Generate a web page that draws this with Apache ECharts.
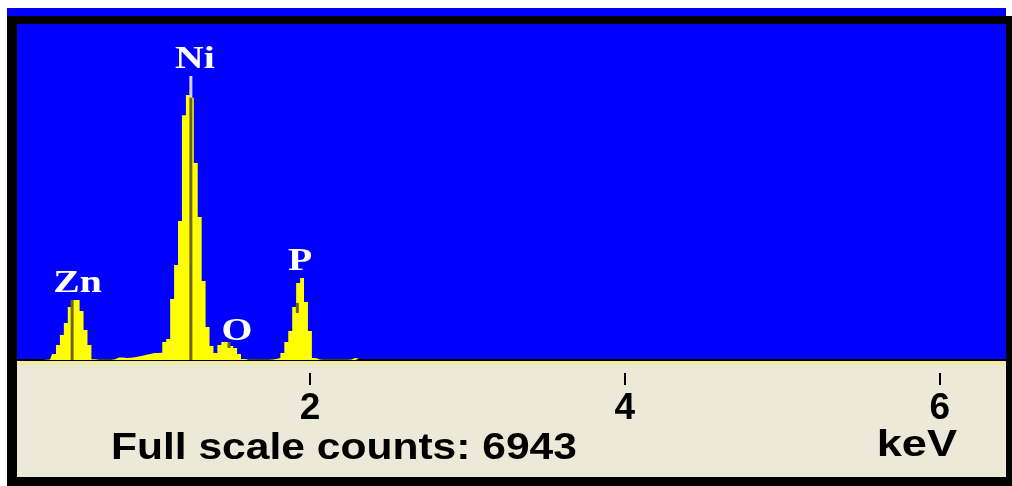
<!DOCTYPE html>
<html>
<head>
<meta charset="utf-8">
<script src="https://cdn.jsdelivr.net/npm/echarts@6/dist/echarts.min.js"></script>
<style>
  html, body { margin: 0; padding: 0; background: #ffffff; }
  #chart { width: 1012px; height: 486px; }
</style>
</head>
<body>
<div id="chart"></div>
<script>
// EDS spectrum: channel energies (keV) and counts per channel
const energy = [
  0.150, 0.175, 0.200, 0.225, 0.250, 0.275, 0.300, 0.325, 0.350, 0.375,
  0.400, 0.425, 0.450, 0.475, 0.500, 0.525, 0.550, 0.575, 0.600, 0.625,
  0.650, 0.675, 0.700, 0.725, 0.750, 0.775, 0.800, 0.825, 0.850, 0.875,
  0.900, 0.925, 0.950, 0.975, 1.000, 1.025, 1.050, 1.075, 1.100, 1.125,
  1.150, 1.175, 1.200, 1.225, 1.250, 1.275, 1.300, 1.325, 1.350, 1.375,
  1.400, 1.425, 1.450, 1.475, 1.500, 1.525, 1.550, 1.575, 1.600, 1.625,
  1.650, 1.675, 1.700, 1.725, 1.750, 1.775, 1.800, 1.825, 1.850, 1.875,
  1.900, 1.925, 1.950, 1.975, 2.000, 2.025, 2.050, 2.075, 2.100, 2.125,
  2.150, 2.175, 2.200, 2.225, 2.250, 2.275, 2.300, 2.325
];
const counts = [
  0, 0, 0, 0, 0, 0, 0, 5, 10, 124,
  310, 517, 764, 1095, 1240, 1240, 1012, 620, 310, 15,
  5, 5, 5, 5, 15, 50, 50, 40, 45, 55,
  70, 90, 110, 125, 145, 145, 150, 372, 434, 1260,
  1963, 2872, 5060, 5475, 5420, 4070, 2954, 1632, 682, 290,
  145, 310, 372, 372, 290, 248, 124, 20, 5, 5,
  5, 5, 5, 5, 10, 20, 41, 145, 372, 600,
  1095, 1590, 1694, 1198, 600, 41, 10, 5, 5, 5,
  5, 5, 5, 5, 10, 40, 25, 0
];
const fullScale = 6943;
const energyRange = [0.14, 6.42];
const tickStep = 2;
const tickAxisMax = 8;

// element identification labels (label foot position in keV / counts)
const elementNames = ['Zn', 'Ni', 'O', 'P'];
const elementEnergy = [0.524, 1.270, 1.537, 1.937];
const elementLabelAt = [1240, 5868, 248, 1694];

// KLM marker lines
const markerEnergy = [0.490, 1.244, 1.486, 1.920];
const markerFrom = [0, 0, 248, 970];
const markerTo = [1240, 5868, 372, 1180];

function countAt(e) {
  let best = 0;
  for (let i = 1; i < energy.length; i++) {
    if (Math.abs(energy[i] - e) < Math.abs(energy[best] - e)) best = i;
  }
  return counts[best];
}

// plot frame: spectrum window and the scale strip beneath it
const plotLeft = 17, plotRight = 1006, plotTop = 24, plotBottom = 360, width = 1012, height = 486;
const pxPerKeV = (plotRight - plotLeft) / (energyRange[1] - energyRange[0]);
const zeroX = plotLeft - energyRange[0] * pxPerKeV;

const chart = echarts.init(document.getElementById('chart'), null, { renderer: 'canvas' });

const option = {
  animation: false,
  backgroundColor: '#ffffff',
  grid: [
    {
      left: plotLeft, right: width - plotRight, top: plotTop, bottom: height - plotBottom,
      outerBoundsMode: 'none', containLabel: false,
      show: true, backgroundColor: '#0000ff', borderWidth: 0
    },
    {
      // tick scale grid: same keV-to-pixel mapping, counted from 0 keV
      left: zeroX, right: width - (zeroX + tickAxisMax * pxPerKeV),
      top: plotTop, bottom: height - plotBottom,
      outerBoundsMode: 'none', containLabel: false, show: false
    }
  ],
  xAxis: [
    {
      type: 'value', gridIndex: 0, min: energyRange[0], max: energyRange[1],
      axisLine: { show: true, onZero: false, lineStyle: { color: '#000000', width: 2 } },
      axisTick: { show: false }, axisLabel: { show: false }, splitLine: { show: false }
    },
    {
      type: 'value', gridIndex: 1, min: 0, max: tickAxisMax, interval: tickStep,
      position: 'bottom', offset: 13,
      axisLine: { show: false, onZero: false },
      axisTick: { show: true, inside: false, length: 12, lineStyle: { color: '#000000', width: 2 } },
      axisLabel: {
        show: true, margin: 17, showMinLabel: false, showMaxLabel: false, hideOverlap: false,
        formatter: v => (v === 0 ? '' : String(v)),
        color: '#000000', fontSize: 37, fontWeight: 'bold', fontFamily: 'Liberation Sans'
      },
      splitLine: { show: false }
    }
  ],
  yAxis: [
    { type: 'value', gridIndex: 0, min: 0, max: fullScale, show: false, splitLine: { show: false } },
    { type: 'value', gridIndex: 1, min: 0, max: fullScale, show: false, splitLine: { show: false } }
  ],
  graphic: [
    { type: 'rect', z: -5, shape: { x: 7, y: 8, width: 999, height: 8 }, style: { fill: '#0000ff' } },
    { type: 'rect', z: -5, shape: { x: 7, y: 16, width: 1005, height: 470 }, style: { fill: '#000000' } },
    { type: 'rect', z: -4, shape: { x: 17, y: 365, width: 989, height: 112 }, style: { fill: '#ece9d8' } },
    { type: 'rect', z: -4, shape: { x: 17, y: 361, width: 989, height: 4 }, style: { fill: '#f2eca0' } },
    {
      type: 'text', x: 111, y: 467, scaleX: 1.15,
      style: {
        text: 'Full scale counts: ' + fullScale, fill: '#000000',
        font: 'bold 37px "Liberation Sans"', align: 'left', verticalAlign: 'bottom'
      }
    },
    {
      type: 'text', x: 957, y: 464, scaleX: 1.22,
      style: {
        text: 'keV', fill: '#000000',
        font: 'bold 37px "Liberation Sans"', align: 'right', verticalAlign: 'bottom'
      }
    }
  ],
  series: [
    {
      type: 'line',
      xAxisIndex: 0, yAxisIndex: 0,
      data: energy.map((e, i) => [e, counts[i]]),
      step: 'middle',
      symbol: 'none',
      showSymbol: false,
      lineStyle: { width: 0, opacity: 0 },
      areaStyle: { color: '#ffff00', opacity: 1 },
      z: 2
    },
    {
      type: 'custom',
      xAxisIndex: 0, yAxisIndex: 0,
      data: markerEnergy.map((e, i) => [e, markerFrom[i], markerTo[i], countAt(e)]),
      renderItem: function (params, api) {
        const e = api.value(0), lo = api.value(1), hi = api.value(2), pk = api.value(3);
        const mid = Math.min(hi, pk);
        const a = api.coord([e, lo]), b = api.coord([e, mid]), c = api.coord([e, hi]);
        const children = [{
          type: 'line',
          shape: { x1: a[0], y1: a[1], x2: b[0], y2: b[1] },
          style: { stroke: '#6e6614', lineWidth: 3 }
        }];
        if (hi > pk) {
          children.push({
            type: 'line',
            shape: { x1: b[0], y1: b[1], x2: c[0], y2: c[1] },
            style: { stroke: '#d4d0ff', lineWidth: 3 }
          });
        }
        return { type: 'group', children: children };
      },
      z: 3
    },
    {
      type: 'custom',
      xAxisIndex: 0, yAxisIndex: 0,
      data: elementEnergy.map((e, i) => [e, elementLabelAt[i]]),
      renderItem: function (params, api) {
        const p = api.coord([api.value(0), api.value(1)]);
        return {
          type: 'text',
          x: p[0], y: p[1] - 1, scaleX: 1.28,
          style: {
            text: elementNames[params.dataIndex], fill: '#ffffff',
            font: 'bold 31px "Liberation Serif"', align: 'center', verticalAlign: 'bottom'
          }
        };
      },
      z: 4
    }
  ]
};

chart.setOption(option);
</script>
</body>
</html>
